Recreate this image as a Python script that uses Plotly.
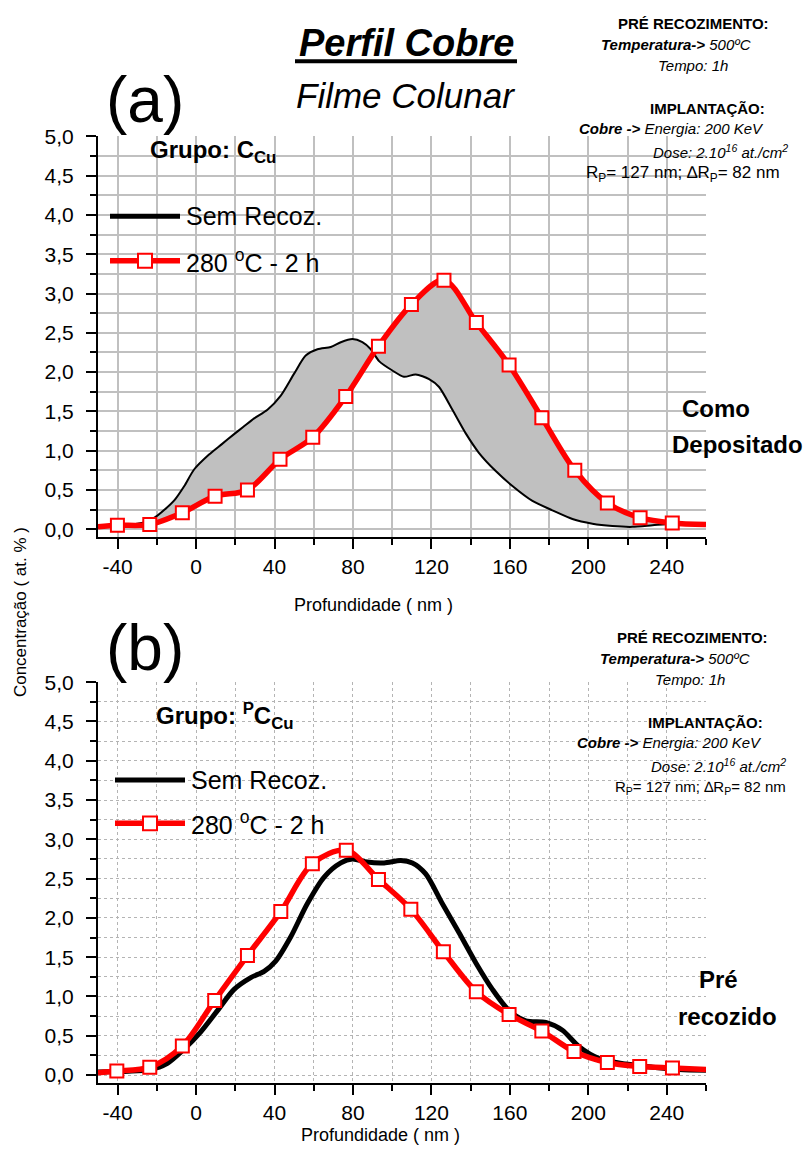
import plotly.graph_objects as go

# ---------------- data ----------------
x_tick_vals = [-40, 0, 40, 80, 120, 160, 200, 240]
x_tick_text = ["-40", "0", "40", "80", "120", "160", "200", "240"]
x_minor_vals = [-20, 20, 60, 100, 140, 180, 220, 260]

# Panel (a) - Como Depositado
a_black_x = [-50, -40, -30, -25, -21, -16, -11, -6, -1, 6.6, 13, 19.4, 24, 29.6, 36.4, 43.2, 50, 55.9,
             61.9, 68.7, 73.8, 79.7, 84.8, 89.1, 93.3, 100.1, 106, 112, 118.8, 123.9, 130.7, 137.5,
             144.3, 152.8, 161.3, 171.5, 181.7, 191.9, 202.1, 212.3, 222.5, 232.7, 242.8, 260]
a_black_y = [0.02, 0.04, 0.07, 0.10, 0.15, 0.25, 0.37, 0.55, 0.76, 0.95, 1.08, 1.21, 1.30, 1.41, 1.52,
             1.70, 1.98, 2.21, 2.29, 2.32, 2.38, 2.42, 2.38, 2.29, 2.14, 2.02, 1.94, 1.97, 1.91, 1.81,
             1.52, 1.22, 0.97, 0.74, 0.55, 0.36, 0.24, 0.13, 0.07, 0.04, 0.03, 0.05, 0.07, 0.07]
a_red_x = [-50, -40.1, -23.6, -7, 9.7, 26.2, 42.8, 59.5, 76.3, 93, 109.8, 126.4, 142.9, 159.6,
           176.3, 193.1, 209.7, 226.4, 242.8, 260]
a_red_y = [0.03, 0.05, 0.06, 0.21, 0.42, 0.50, 0.89, 1.17, 1.69, 2.33, 2.86, 3.17, 2.63, 2.09,
           1.42, 0.75, 0.335, 0.147, 0.08, 0.06]

# Panel (b) - Pré recozido
b_black_x = [-50, -23.6, -14.6, -6.1, 2.4, 10.9, 19.4, 27.9, 34.7, 40.6, 48.3, 56.7, 65.3, 73.8,
             79.7, 87.3, 95.9, 104.4, 110.3, 117.1, 125.6, 134.1, 142.6, 151.1, 159.6, 168.1,
             178.3, 186.8, 195.3, 205.5, 219.1, 232.7, 246.3, 260]
b_black_y = [0.04, 0.07, 0.15, 0.33, 0.55, 0.82, 1.09, 1.24, 1.32, 1.45, 1.76, 2.18, 2.52, 2.70,
             2.75, 2.71, 2.70, 2.73, 2.70, 2.56, 2.18, 1.81, 1.43, 1.09, 0.82, 0.69, 0.67, 0.57,
             0.36, 0.21, 0.14, 0.10, 0.07, 0.06]
b_red_x = [-50, -40.4, -23.6, -7, 9.5, 26.2, 43.2, 59.3, 76.6, 93, 109.5, 126.1, 142.9, 159.6,
           176.3, 192.7, 209.7, 226.2, 242.9, 260]
b_red_y = [0.03, 0.05, 0.10, 0.37, 0.95, 1.52, 2.08, 2.69, 2.86, 2.49, 2.11, 1.57, 1.06, 0.77,
           0.56, 0.30, 0.16, 0.11, 0.09, 0.07]

series_names = ["Sem Recoz.", "280 <sup>o</sup>C - 2 h"]

# ---------------- layout helpers ----------------
W, H = 810, 1153
def fx(px):
    return px / W
def fy(py):
    return 1 - py / H

FONT = "Liberation Sans, Arial, sans-serif"
RED = "#ff0000"

fig = go.Figure()

# Panel (a)
fig.add_trace(go.Scatter(x=a_black_x, y=a_black_y, mode="lines", line=dict(color="black", width=2, shape="spline", smoothing=0.7),
                         xaxis="x", yaxis="y", showlegend=False, hoverinfo="skip"))
fig.add_trace(go.Scatter(x=a_red_x, y=a_red_y, mode="lines", line=dict(color=RED, width=5.5, shape="spline", smoothing=0.9),
                         fill="tonexty", fillcolor="#c0c0c0", xaxis="x", yaxis="y", showlegend=False, hoverinfo="skip"))
fig.add_trace(go.Scatter(x=a_red_x[1:-1], y=a_red_y[1:-1], mode="markers",
                         marker=dict(symbol="square", size=13, color="white", line=dict(color=RED, width=2)),
                         xaxis="x", yaxis="y", showlegend=False))

# Panel (b)
fig.add_trace(go.Scatter(x=b_black_x, y=b_black_y, mode="lines", line=dict(color="black", width=5, shape="spline", smoothing=0.8),
                         xaxis="x2", yaxis="y2", showlegend=False, hoverinfo="skip"))
fig.add_trace(go.Scatter(x=b_red_x, y=b_red_y, mode="lines", line=dict(color=RED, width=5.5, shape="spline", smoothing=0.9),
                         xaxis="x2", yaxis="y2", showlegend=False, hoverinfo="skip"))
fig.add_trace(go.Scatter(x=b_red_x[1:-1], y=b_red_y[1:-1], mode="markers",
                         marker=dict(symbol="square", size=13, color="white", line=dict(color=RED, width=2)),
                         xaxis="x2", yaxis="y2", showlegend=False))

xdom = [fx(98), fx(706)]

def xaxis_cfg(anchor, gridcolor, griddash, gridwidth):
    return dict(domain=xdom, anchor=anchor, range=[-50, 260], tickmode="array", tickvals=x_tick_vals,
                ticktext=x_tick_text, ticks="outside", ticklen=10, tickwidth=2, tickcolor="black",
                showline=True, linecolor="black", linewidth=2, zeroline=False,
                showgrid=True, gridcolor=gridcolor, griddash=griddash, gridwidth=gridwidth,
                tickfont=dict(family=FONT, size=21, color="black"),
                minor=dict(tickvals=x_minor_vals, ticks="outside", ticklen=6, tickwidth=2, tickcolor="black",
                           showgrid=True, gridcolor=gridcolor, griddash=griddash, gridwidth=gridwidth))

def yaxis_cfg(anchor, dom, gridcolor, griddash, gridwidth):
    return dict(domain=dom, anchor=anchor, range=[-0.1, 5.0], tickmode="linear", tick0=0, dtick=0.5,
                tickformat=".1f", ticks="outside", ticklen=10, tickwidth=2, tickcolor="black",
                showline=True, linecolor="black", linewidth=2, zeroline=False, ticklabelstandoff=8,
                showgrid=True, gridcolor=gridcolor, griddash=griddash, gridwidth=gridwidth,
                tickfont=dict(family=FONT, size=21, color="black"),
                minor=dict(dtick=0.25, tick0=0, ticks="outside", ticklen=6, tickwidth=2, tickcolor="black",
                           showgrid=True, gridcolor=gridcolor, griddash=griddash, gridwidth=gridwidth))

annotations = []
def txt(text, px, py, size, xanchor="center", bold=False, italic=False, family=FONT, angle=0):
    t = text
    if italic:
        t = "<i>" + t + "</i>"
    if bold:
        t = "<b>" + t + "</b>"
    annotations.append(dict(text=t, x=fx(px), y=fy(py), xref="paper", yref="paper", xanchor=xanchor,
                            yanchor="middle", showarrow=False, textangle=angle,
                            font=dict(family=family, size=size, color="black")))

# titles
txt("Perfil Cobre", 406, 31, 38, bold=True, italic=True)
txt("Filme Colunar", 405, 85, 35, italic=True)
txt("(a)", 145, 89, 64)
txt("(b)", 145, 644, 64)

# info boxes
def info(y0, xs, rp_size):
    ys = [y0, y0 + 21, y0 + 42, y0 + 86, y0 + 106, y0 + 129, y0 + 152]
    txt("<b>PRÉ RECOZIMENTO:</b>", xs[0], ys[0], 15)
    txt("<b><i>Temperatura-&gt;</i></b><i> 500ºC</i>", xs[1], ys[1], 15)
    txt("<i>Tempo: 1h</i>", xs[2], ys[2], 15)
    txt("<b>IMPLANTAÇÃO:</b>", xs[3], ys[3], 15)
    txt("<b><i>Cobre -&gt;</i></b><i> Energia: 200 KeV</i>", xs[4], ys[4], 15)
    txt("<i>Dose: 2.10<sup>16</sup> at./cm<sup>2</sup></i>", xs[5], ys[5], 15)
    txt("R<sub>P</sub>= 127 nm; ∆R<sub>P</sub>= 82 nm", xs[6], ys[6], rp_size)

info(12, [693, 676, 693, 707, 671, 720, 683], 17)
info(634, [692, 675, 690, 705, 669, 718, 700], 15)

txt("Como", 716, 402, 24, bold=True)
txt("Depositado", 737, 438, 24, bold=True)
txt("Pré", 718, 980, 24, bold=True)
txt("recozido", 727, 1018, 24, bold=True)

txt("Grupo: C<sub>Cu</sub>", 148, 141, 24, xanchor="left", bold=True)
txt("Grupo: <sup>P</sup>C<sub>Cu</sub>", 154, 713, 24, xanchor="left", bold=True)

# axis titles
txt("Profundidade ( nm )", 373, 601, 18)
txt("Profundidade ( nm )", 380, 1138, 18)
txt("Concentração ( at. % )", 20, 608, 17, angle=-90)

# legends (manual)
shapes = []
def legend(x0, y_black, y_red):
    shapes.append(dict(type="line", xref="paper", yref="paper", x0=fx(x0), x1=fx(x0 + 70),
                       y0=fy(y_black), y1=fy(y_black), line=dict(color="black", width=5)))
    shapes.append(dict(type="line", xref="paper", yref="paper", x0=fx(x0), x1=fx(x0 + 70),
                       y0=fy(y_red), y1=fy(y_red), line=dict(color=RED, width=5.5)))
    cx = x0 + 35
    shapes.append(dict(type="rect", xref="paper", yref="paper", x0=fx(cx - 7), x1=fx(cx + 7),
                       y0=fy(y_red + 7), y1=fy(y_red - 7), fillcolor="white", line=dict(color=RED, width=2)))
    txt(series_names[0], x0 + 74, y_black, 25, xanchor="left")
    txt(series_names[1], x0 + 74, y_red, 25, xanchor="left")

legend(110, 207, 252)
legend(115, 778, 822)

# title underline
shapes.append(dict(type="line", xref="paper", yref="paper", x0=fx(295), x1=fx(517), y0=fy(50), y1=fy(50),
                   line=dict(color="black", width=4)))

fig.update_layout(
    width=W, height=H, margin=dict(l=0, r=0, t=0, b=0),
    paper_bgcolor="white", plot_bgcolor="white",
    separators=",.",
    xaxis=xaxis_cfg("y", "#c0c0c0", "solid", 1.5),
    yaxis=yaxis_cfg("x", [fy(532), fy(126)], "#c0c0c0", "solid", 1.5),
    xaxis2=xaxis_cfg("y2", "#b4b4b4", "dot", 1),
    yaxis2=yaxis_cfg("x2", [fy(1085), fy(679)], "#b4b4b4", "dot", 1),
    annotations=annotations, shapes=shapes, showlegend=False,
)

fig.write_html("out.html")
